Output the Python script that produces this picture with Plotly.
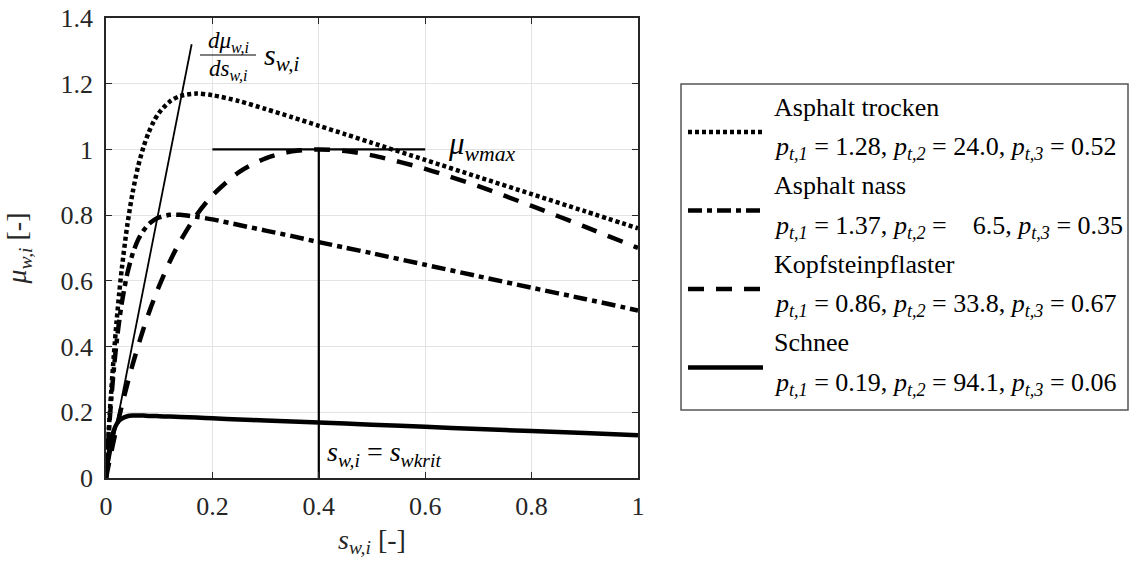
import plotly.graph_objects as go

# ---------------- data ----------------
slip = [0, 0.005, 0.01, 0.015, 0.02, 0.025, 0.03, 0.04, 0.05, 0.06, 0.07, 0.08, 0.09,
        0.10, 0.12, 0.14, 0.17, 0.2, 0.25, 0.3, 0.35, 0.4, 0.45, 0.5, 0.6, 0.7, 0.8, 0.9, 1.0]

mu_asphalt_trocken = [0, 0.142, 0.268, 0.379, 0.478, 0.565, 0.641, 0.769, 0.868, 0.946, 1.005,
                      1.051, 1.086, 1.112, 1.146, 1.163, 1.170, 1.165, 1.147, 1.123, 1.098,
                      1.072, 1.046, 1.020, 0.968, 0.916, 0.864, 0.812, 0.760]
mu_asphalt_nass = [0, 0.132, 0.242, 0.336, 0.414, 0.480, 0.536, 0.622, 0.682, 0.724, 0.752,
                   0.772, 0.785, 0.793, 0.801, 0.801, 0.795, 0.787, 0.770, 0.753, 0.736,
                   0.718, 0.701, 0.684, 0.649, 0.614, 0.579, 0.545, 0.510]
mu_kopfstein = [0, 0.040, 0.079, 0.117, 0.153, 0.188, 0.221, 0.285, 0.345, 0.400, 0.452,
                0.500, 0.544, 0.585, 0.659, 0.722, 0.800, 0.860, 0.931, 0.973, 0.994,
                1.000, 0.995, 0.982, 0.941, 0.888, 0.828, 0.765, 0.700]
mu_schnee = [0, 0.073, 0.118, 0.146, 0.164, 0.175, 0.181, 0.188, 0.190, 0.190, 0.190,
             0.189, 0.189, 0.188, 0.187, 0.186, 0.184, 0.182, 0.178, 0.175, 0.172,
             0.169, 0.166, 0.162, 0.156, 0.149, 0.143, 0.137, 0.130]

tangent_s = [0, 0.161]
tangent_mu = [0, 1.32]
mumax_s = [0.2, 0.6]
mumax_mu = [1.0, 1.0]
skrit_s = [0.4, 0.4]
skrit_mu = [0.0, 1.0]

series_names = ["Asphalt trocken", "Asphalt nass", "Kopfsteinpflaster", "Schnee"]
series_params = [("1.28", "24.0", "0.52"), ("1.37", "\u2007 6.5", "0.35"),
                 ("0.86", "33.8", "0.67"), ("0.19", "94.1", "0.06")]
series_values = [mu_asphalt_trocken, mu_asphalt_nass, mu_kopfstein, mu_schnee]
series_dash = ["4px,3px", "14px,5px,5px,5px", "16px,12px", "solid"]

x_ticks = [0, 0.2, 0.4, 0.6, 0.8, 1]
x_tick_text = ["0", "0.2", "0.4", "0.6", "0.8", "1"]
y_ticks = [0, 0.2, 0.4, 0.6, 0.8, 1.0, 1.2, 1.4]
y_tick_text = ["0", "0.2", "0.4", "0.6", "0.8", "1", "1.2", "1.4"]

# ---------------- layout geometry ----------------
W, H = 1137, 569
L, R, T, B = 106, 638, 18, 478
FONT = "Liberation Serif"
INK = "#000000"
AX = "#262626"


def px(xp):
    return (xp - L) / (R - L)


def py(yp):
    return (B - yp) / (B - T)


fig = go.Figure()

for name, vals, dash in zip(series_names, series_values, series_dash):
    fig.add_trace(go.Scatter(x=slip, y=vals, mode="lines", name=name,
                             line=dict(color=INK, width=4.5, dash=dash, shape="spline", smoothing=0.8),
                             showlegend=False, hoverinfo="skip"))

for xs, ys, w in [(tangent_s, tangent_mu, 1.8), (mumax_s, mumax_mu, 2.2), (skrit_s, skrit_mu, 2.2)]:
    fig.add_trace(go.Scatter(x=xs, y=ys, mode="lines", line=dict(color=INK, width=w),
                             showlegend=False, hoverinfo="skip"))

ann = []
shapes = []

# fraction annotation dmu/ds s
ann.append(dict(x=px(228), y=py(42), xref="paper", yref="paper", showarrow=False,
                text="<i>dμ</i><sub><i>w,i</i></sub>", font=dict(family=FONT, size=23, color=INK),
                xanchor="center", yanchor="middle"))
ann.append(dict(x=px(228), y=py(70), xref="paper", yref="paper", showarrow=False,
                text="<i>ds</i><sub><i>w,i</i></sub>", font=dict(family=FONT, size=23, color=INK),
                xanchor="center", yanchor="middle"))
shapes.append(dict(type="line", xref="paper", yref="paper", x0=px(200), x1=px(256),
                   y0=py(55), y1=py(55), line=dict(color=INK, width=1.2)))
ann.append(dict(x=px(262), y=py(57), xref="paper", yref="paper", showarrow=False,
                text="<i>s</i><sub><i>w,i</i></sub>", font=dict(family=FONT, size=30, color=INK),
                xanchor="left", yanchor="middle"))

# mu_wmax
ann.append(dict(x=px(446), y=py(146), xref="paper", yref="paper", showarrow=False,
                text="<i>μ</i><sub><i>wmax</i></sub>", font=dict(family=FONT, size=31, color=INK),
                xanchor="left", yanchor="middle"))
# s_wi = s_wkrit
ann.append(dict(x=px(325), y=py(453), xref="paper", yref="paper", showarrow=False,
                text="<i>s</i><sub><i>w,i</i></sub> = <i>s</i><sub><i>wkrit</i></sub>",
                font=dict(family=FONT, size=28, color=INK),
                xanchor="left", yanchor="middle"))

# legend (manual)
shapes.append(dict(type="rect", xref="paper", yref="paper", x0=px(681), x1=px(1128),
                   y0=py(84), y1=py(410), line=dict(color="#555555", width=1.5),
                   fillcolor="white", layer="below"))
for k, (name, prm, dash) in enumerate(zip(series_names, series_params, series_dash)):
    ys = 132 + 78.5 * k
    shapes.append(dict(type="line", xref="paper", yref="paper", x0=px(688), x1=px(763),
                       y0=py(ys), y1=py(ys), line=dict(color=INK, width=4.5, dash=dash)))
    ann.append(dict(x=px(772), y=py(ys - 25), xref="paper", yref="paper", showarrow=False,
                    text=name, font=dict(family=FONT, size=26, color=INK),
                    xanchor="left", yanchor="middle"))
    ptxt = ("<i>p</i><sub><i>t,1</i></sub> = %s, <i>p</i><sub><i>t,2</i></sub> = %s, "
            "<i>p</i><sub><i>t,3</i></sub> = %s") % prm
    ann.append(dict(x=px(772), y=py(ys + 16), xref="paper", yref="paper", showarrow=False,
                    text=ptxt, font=dict(family=FONT, size=26, color=INK),
                    xanchor="left", yanchor="middle"))

axis_common = dict(showline=True, linecolor=AX, linewidth=1.6, mirror="ticks",
                   ticks="inside", ticklen=6, tickwidth=1.3, tickcolor=AX,
                   showgrid=True, gridcolor="#e3e3e3", gridwidth=1, zeroline=False,
                   tickfont=dict(family=FONT, size=26, color=AX))

fig.update_layout(
    width=W, height=H,
    margin=dict(l=L, r=W - R, t=T, b=H - B, autoexpand=False),
    paper_bgcolor="white", plot_bgcolor="white",
    font=dict(family=FONT, color=AX),
    xaxis=dict(range=[0, 1], tickvals=x_ticks, ticktext=x_tick_text,
               ticklabelstandoff=4,
               title=dict(text="<i>s</i><sub><i>w,i</i></sub> [-]", font=dict(family=FONT, size=28, color=AX),
                          standoff=9),
               **axis_common),
    yaxis=dict(range=[0, 1.4], tickvals=y_ticks, ticktext=y_tick_text,
               ticklabelstandoff=6,
               title=dict(text="<i>μ</i><sub><i>w,i</i></sub> [-]", font=dict(family=FONT, size=28, color=AX),
                          standoff=26),
               **axis_common),
    annotations=ann, shapes=shapes, showlegend=False,
)

fig.write_html("out.html")
